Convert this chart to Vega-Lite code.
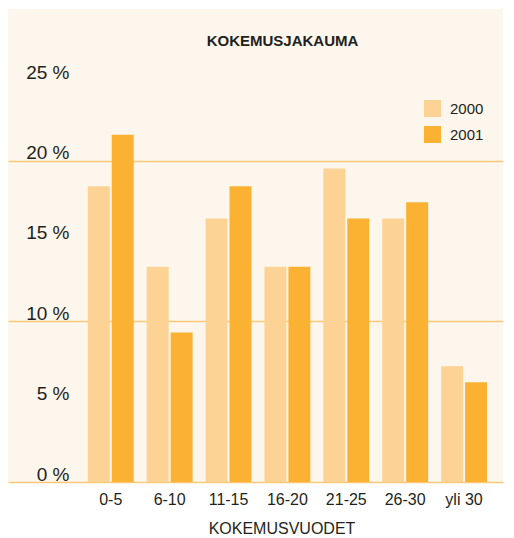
{
  "$schema": "https://vega.github.io/schema/vega-lite/v6.json",
  "width": 495,
  "height": 473,
  "autosize": "none",
  "padding": {"left": 8, "top": 9, "right": 11, "bottom": 56},
  "background": "#ffffff",
  "title": {
    "text": "KOKEMUSJAKAUMA",
    "font": "Liberation Sans",
    "fontSize": 15,
    "fontWeight": "bold",
    "color": "#231f20",
    "anchor": "middle",
    "frame": "group",
    "dx": 27,
    "offset": -52,
    "baseline": "alphabetic"
  },
  "config": {"view": {"fill": "#fdf6ec", "stroke": null}},
  "data": {
    "values": [
      {"ryhma": "0-5", "vuosi": "2000", "osuus": 18.4},
      {"ryhma": "0-5", "vuosi": "2001", "osuus": 21.6},
      {"ryhma": "6-10", "vuosi": "2000", "osuus": 13.4},
      {"ryhma": "6-10", "vuosi": "2001", "osuus": 9.3},
      {"ryhma": "11-15", "vuosi": "2000", "osuus": 16.4},
      {"ryhma": "11-15", "vuosi": "2001", "osuus": 18.4},
      {"ryhma": "16-20", "vuosi": "2000", "osuus": 13.4},
      {"ryhma": "16-20", "vuosi": "2001", "osuus": 13.4},
      {"ryhma": "21-25", "vuosi": "2000", "osuus": 19.5},
      {"ryhma": "21-25", "vuosi": "2001", "osuus": 16.4},
      {"ryhma": "26-30", "vuosi": "2000", "osuus": 16.4},
      {"ryhma": "26-30", "vuosi": "2001", "osuus": 17.4},
      {"ryhma": "yli 30", "vuosi": "2000", "osuus": 7.2},
      {"ryhma": "yli 30", "vuosi": "2001", "osuus": 6.2}
    ]
  },
  "mark": {"type": "bar"},
  "encoding": {
    "x": {
      "field": "ryhma",
      "type": "nominal",
      "sort": ["0-5", "6-10", "11-15", "16-20", "21-25", "26-30", "yli 30"],
      "scale": {"paddingInner": 0.2203, "paddingOuter": 0.8136, "align": 0.833},
      "title": "KOKEMUSVUODET",
      "axis": {
        "domainColor": "#fbc979",
        "domainWidth": 1.5,
        "ticks": false,
        "labelAngle": 0,
        "labelFont": "Liberation Sans",
        "labelFontSize": 16,
        "labelColor": "#231f20",
        "labelPadding": 9,
        "titleFont": "Liberation Sans",
        "titleFontSize": 16,
        "titleFontWeight": "normal",
        "titleColor": "#231f20",
        "titlePadding": 13,
        "titleX": 273.5
      }
    },
    "xOffset": {
      "field": "vuosi",
      "type": "nominal",
      "scale": {"paddingInner": 0.083, "paddingOuter": 0}
    },
    "y": {
      "field": "osuus",
      "type": "quantitative",
      "scale": {"domain": [0, 29.43], "nice": false},
      "axis": {
        "values": [0, 5, 10, 15, 20, 25],
        "labelExpr": "datum.value + ' %'",
        "title": null,
        "domain": false,
        "ticks": false,
        "labelPadding": -61,
        "labelAlign": "right",
        "labelBaseline": "alphabetic",
        "labelOffset": -2,
        "labelFont": "Liberation Sans",
        "labelFontSize": 19,
        "labelColor": "#231f20",
        "grid": true,
        "gridColor": "#fbc979",
        "gridWidth": 1.5,
        "gridOpacity": {"condition": {"test": "datum.value == 10 || datum.value == 20", "value": 1}, "value": 0}
      }
    },
    "color": {
      "field": "vuosi",
      "type": "nominal",
      "scale": {"range": ["#fdd395", "#fbb233"]},
      "legend": {
        "orient": "none",
        "legendX": 416,
        "legendY": 91,
        "title": null,
        "padding": 0,
        "symbolType": "square",
        "symbolSize": 289,
        "symbolStrokeWidth": 0,
        "symbolOpacity": 1,
        "labelFont": "Liberation Sans",
        "labelFontSize": 15,
        "labelColor": "#231f20",
        "labelOffset": 9,
        "rowPadding": 9
      }
    }
  }
}
